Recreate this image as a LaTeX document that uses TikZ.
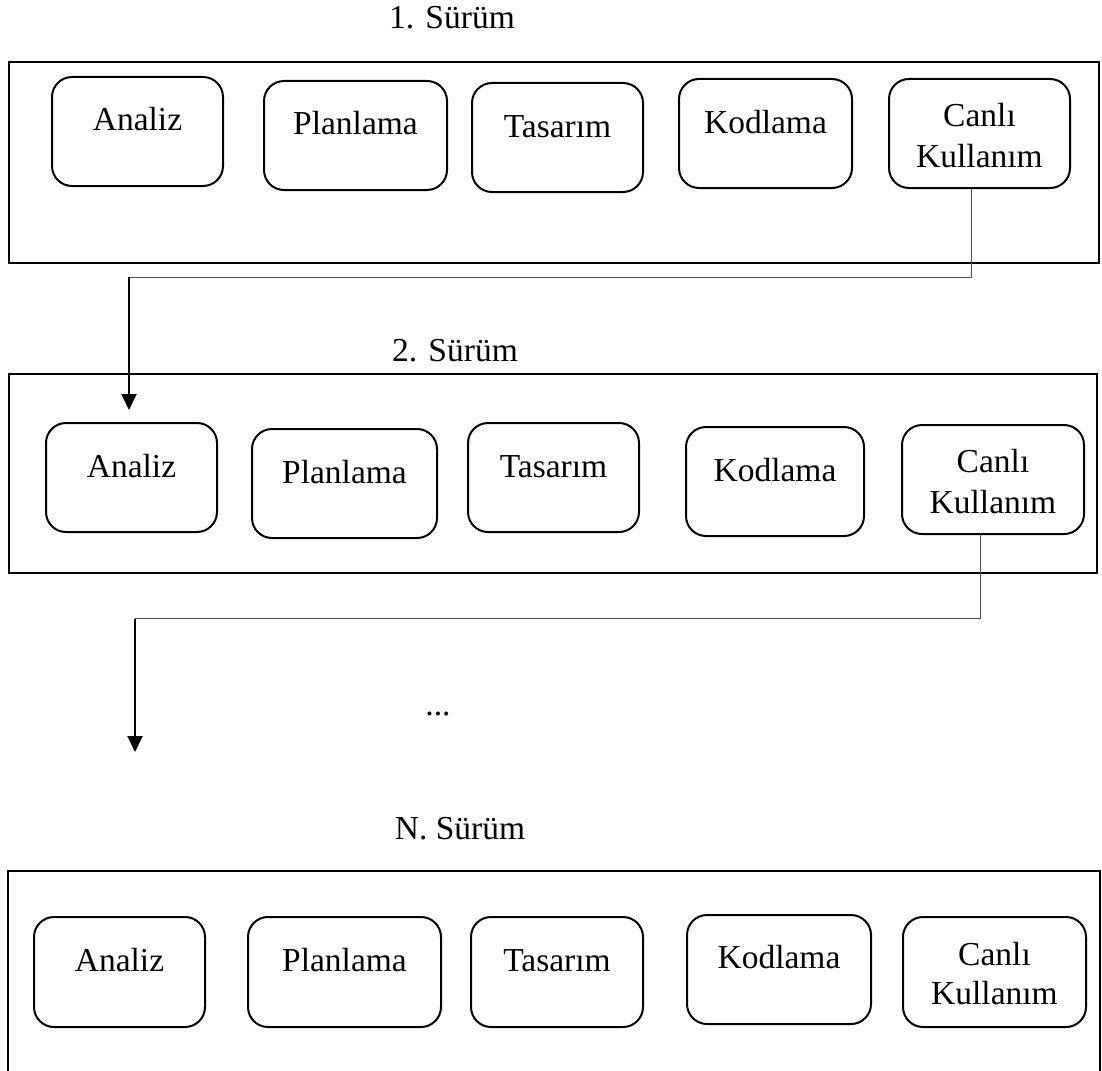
\documentclass[tikz,border=0pt]{standalone}
\usepackage{fontspec}
\setmainfont{Liberation Serif}
\usetikzlibrary{arrows.meta,fit}
\begin{document}
\begin{tikzpicture}[x=1pt,y=-1pt,
  frame/.style={draw=black,line width=2pt,rectangle,inner sep=0pt},
  stage/.style={draw=black,line width=2pt,rectangle,rounded corners=20pt,inner sep=0pt},
  lbl/.style={anchor=base,inner sep=0pt,font=\fontsize{33.5}{40}\selectfont},
  link/.style={draw=black!68,line width=1pt},
  flow/.style={draw=black,line width=2pt,-{Triangle[length=16pt,width=15pt]}}]
\useasboundingbox (0,0) rectangle (1102,1070);
\clip (0,0) rectangle (1102,1070);

% ---------- release 1 ----------
\node[lbl] (t1) at (452,29) {1. Sürüm};
\node[frame,fit={(8.6,61.7) (1099,262.7)}] (f1) {};
\node[stage,fit={(52,77) (223,186)}]   (a1) {};
\node[stage,fit={(264,81) (447,190)}]  (p1) {};
\node[stage,fit={(472,83) (643,192)}]  (d1) {};
\node[stage,fit={(679,79) (852,188)}]  (k1) {};
\node[stage,fit={(889,79) (1070,188)}] (c1) {};
\node[lbl] at (a1.center |- 0,130) {Analiz};
\node[lbl] at (p1.center |- 0,135) {Planlama};
\node[lbl] at (d1.center |- 0,137) {Tasarım};
\node[lbl] at (k1.center |- 0,133) {Kodlama};
\node[lbl] at (c1.center |- 0,127) {Canlı};
\node[lbl] at (c1.center |- 0,167) {Kullanım};

% ---------- release 2 ----------
\node[lbl] (t2) at (455,361) {2. Sürüm};
\node[frame,fit={(8.6,374.3) (1097,573)}] (f2) {};
\node[stage,fit={(46,423) (217,532)}]   (a2) {};
\node[stage,fit={(252,429) (437,538)}]  (p2) {};
\node[stage,fit={(468,423) (639,532)}]  (d2) {};
\node[stage,fit={(686,427) (864,536)}]  (k2) {};
\node[stage,fit={(902,425) (1084,534)}] (c2) {};
\node[lbl] at (a2.center |- 0,477) {Analiz};
\node[lbl] at (p2.center |- 0,483) {Planlama};
\node[lbl] at (d2.center |- 0,477) {Tasarım};
\node[lbl] at (k2.center |- 0,481) {Kodlama};
\node[lbl] at (c2.center |- 0,472) {Canlı};
\node[lbl] at (c2.center |- 0,513) {Kullanım};

% ---------- gap ----------
\node[lbl] (dots) at (438,715) {...};

% ---------- release N ----------
\node[lbl] (tN) at (460,839) {N. Sürüm};
\node[frame,fit={(8.4,870.7) (1100,1095)}] (f3) {};
\node[stage,fit={(34,917) (205,1027)}]   (a3) {};
\node[stage,fit={(248,917) (441,1027)}]  (p3) {};
\node[stage,fit={(471,917) (643,1027)}]  (d3) {};
\node[stage,fit={(687,915) (871,1024)}]  (k3) {};
\node[stage,fit={(903,917) (1086,1027)}] (c3) {};
\node[lbl] at (a3.center |- 0,971) {Analiz};
\node[lbl] at (p3.center |- 0,971) {Planlama};
\node[lbl] at (d3.center |- 0,971) {Tasarım};
\node[lbl] at (k3.center |- 0,968) {Kodlama};
\node[lbl] at (c3.center |- 0,965) {Canlı};
\node[lbl] at (c3.center |- 0,1004) {Kullanım};

% ---------- hand-over connectors ----------
\coordinate (j1) at (971,277);
\coordinate (r1) at (129,277);
\coordinate (h1) at (129,410);
\draw[link] (c1.south -| j1) -- (j1) -- (r1);
\draw[flow] (r1) -- (h1);

\coordinate (j2) at (980,618.5);
\coordinate (r2) at (135,618.5);
\coordinate (h2) at (135,752);
\draw[link] (c2.south -| j2) -- (j2) -- (r2);
\draw[flow] (r2) -- (h2);
\end{tikzpicture}
\end{document}
